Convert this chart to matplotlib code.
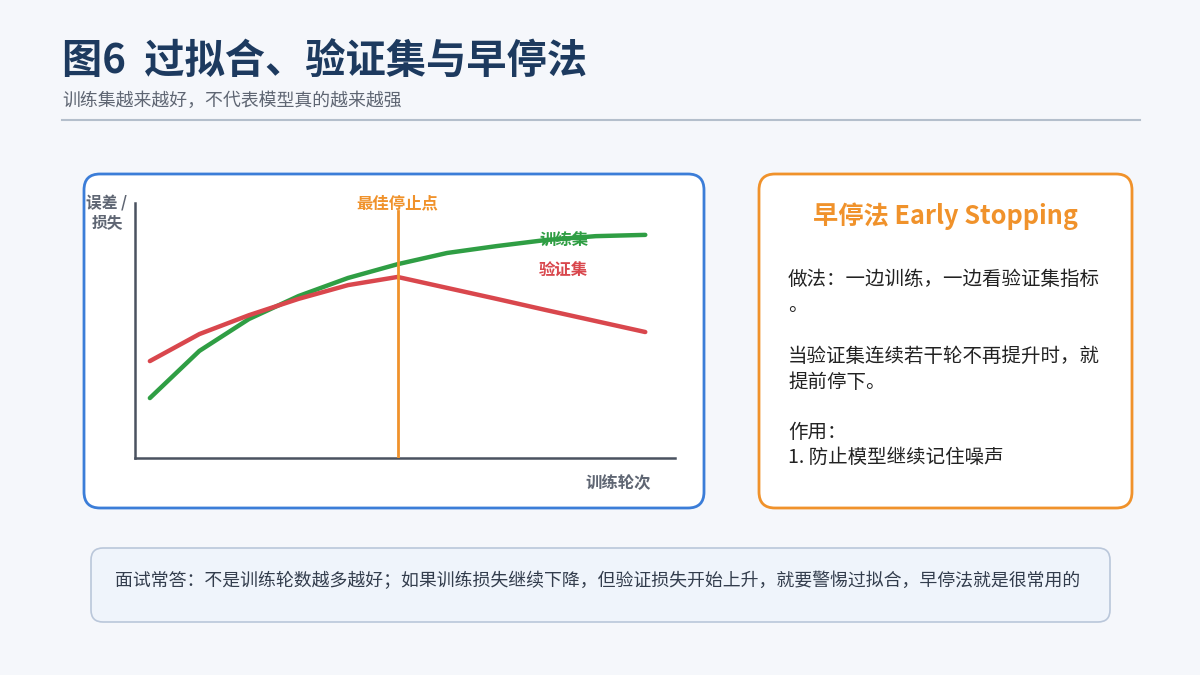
import matplotlib.pyplot as plt
from matplotlib.patches import FancyBboxPatch
import numpy as np

plt.rcParams['font.family'] = ['Noto Sans CJK SC', 'DejaVu Sans']

# ----------------- Data -----------------
epochs = [0, 1, 2, 3, 4, 5, 6, 7, 8, 9, 10]
train_curve = [23.5, 42.0, 54.5, 63.5, 70.6, 76.0, 80.4, 83.1, 85.5, 87.0, 87.5]
valid_curve = [38.0, 48.6, 56.0, 62.4, 67.8, 71.0, 66.7, 62.4, 58.0, 53.7, 49.4]
best_epoch = 5

TITLE = "图6  过拟合、验证集与早停法"
SUBTITLE = "训练集越来越好，不代表模型真的越来越强"
BOX_TITLE = "早停法 Early Stopping"
BOX_LINES = [
    "做法：一边训练，一边看验证集指标",
    "。",
    "当验证集连续若干轮不再提升时，就",
    "提前停下。",
    "作用：",
    "1. 防止模型继续记住噪声",
]
NOTE = "面试常答：不是训练轮数越多越好；如果训练损失继续下降，但验证损失开始上升，就要警惕过拟合，早停法就是很常用的"

# ----------------- Colors -----------------
BG = "#f5f7fb"
NAVY = "#1d3a5f"
GRAY = "#5f6673"
GREEN = "#2f9e44"
RED = "#d9474d"
ORANGE = "#f0922b"
BLUE = "#3b7dd8"

W, H = 1200, 675
fig = plt.figure(figsize=(12, 6.75), dpi=100, facecolor=BG)

# background canvas in pixel coordinates
bg = fig.add_axes([0, 0, 1, 1])
bg.set_xlim(0, W)
bg.set_ylim(H, 0)
bg.axis("off")

bg.text(62, 62, TITLE, fontsize=29, fontweight="bold", color=NAVY, va="center", ha="left")
bg.text(62, 101, SUBTITLE, fontsize=12.9, color=GRAY, va="center", ha="left")
bg.plot([62, 1140], [120, 120], color="#b4bfcc", lw=1.5)

# panels
left_box = FancyBboxPatch((84, 174), 620, 334, boxstyle="round,pad=0,rounding_size=16",
                          fc="white", ec=BLUE, lw=2)
right_box = FancyBboxPatch((759, 174), 373, 334, boxstyle="round,pad=0,rounding_size=16",
                           fc="white", ec=ORANGE, lw=2)
note_box = FancyBboxPatch((91, 548), 1019, 74, boxstyle="round,pad=0,rounding_size=12",
                          fc="#eff4fb", ec="#bac7da", lw=1.2)
for p in (left_box, right_box, note_box):
    bg.add_patch(p)

# right panel text
bg.text(945, 216, BOX_TITLE, fontsize=18.2, fontweight="bold", color=ORANGE, ha="center", va="center")
line_y = [279, 306, 356, 382, 432, 457]
for line, y in zip(BOX_LINES, line_y):
    bg.text(788, y, line, fontsize=14, color="#222222", ha="left", va="center")
# note text
bg.text(115, 581, NOTE, fontsize=12.9, color="#333d4d", ha="left", va="center")

# ----------------- Chart -----------------
ax = fig.add_axes([135 / W, (H - 458) / H, 540 / W, 255 / H])
ax.patch.set_alpha(0)
ax.set_xlim(-0.3, 10.6)
ax.set_ylim(0, 100)
for s in ("top", "right"):
    ax.spines[s].set_visible(False)
for s in ("left", "bottom"):
    ax.spines[s].set_color("#4a5260")
    ax.spines[s].set_linewidth(1.8)
ax.set_xticks([])
ax.set_yticks([])

ax.plot(epochs, train_curve, color=GREEN, lw=3.2, solid_capstyle="round", zorder=3)
ax.plot(epochs, valid_curve, color=RED, lw=3.2, solid_capstyle="round", zorder=3)
ax.plot([best_epoch, best_epoch], [0, 97], color=ORANGE, lw=2, zorder=4)

ax.text(best_epoch, 100, "最佳停止点", color=ORANGE, fontsize=11.8, fontweight="bold",
        ha="center", va="center", clip_on=False)
ax.text(8.35, 85.0, "训练集", color=GREEN, fontsize=11.8, fontweight="bold", ha="center", va="center",
        zorder=2)
ax.text(8.35, 73.3, "验证集", color=RED, fontsize=11.8, fontweight="bold", ha="center", va="center")

bg.text(107, 212, "误差 /\n损失", fontsize=11.3, fontweight="bold", color=GRAY,
        ha="center", va="center", linespacing=1.3)
bg.text(618, 483, "训练轮次", fontsize=11.8, fontweight="bold", color=GRAY, ha="center", va="center")

fig.savefig("out.png", dpi=100, facecolor=BG)
